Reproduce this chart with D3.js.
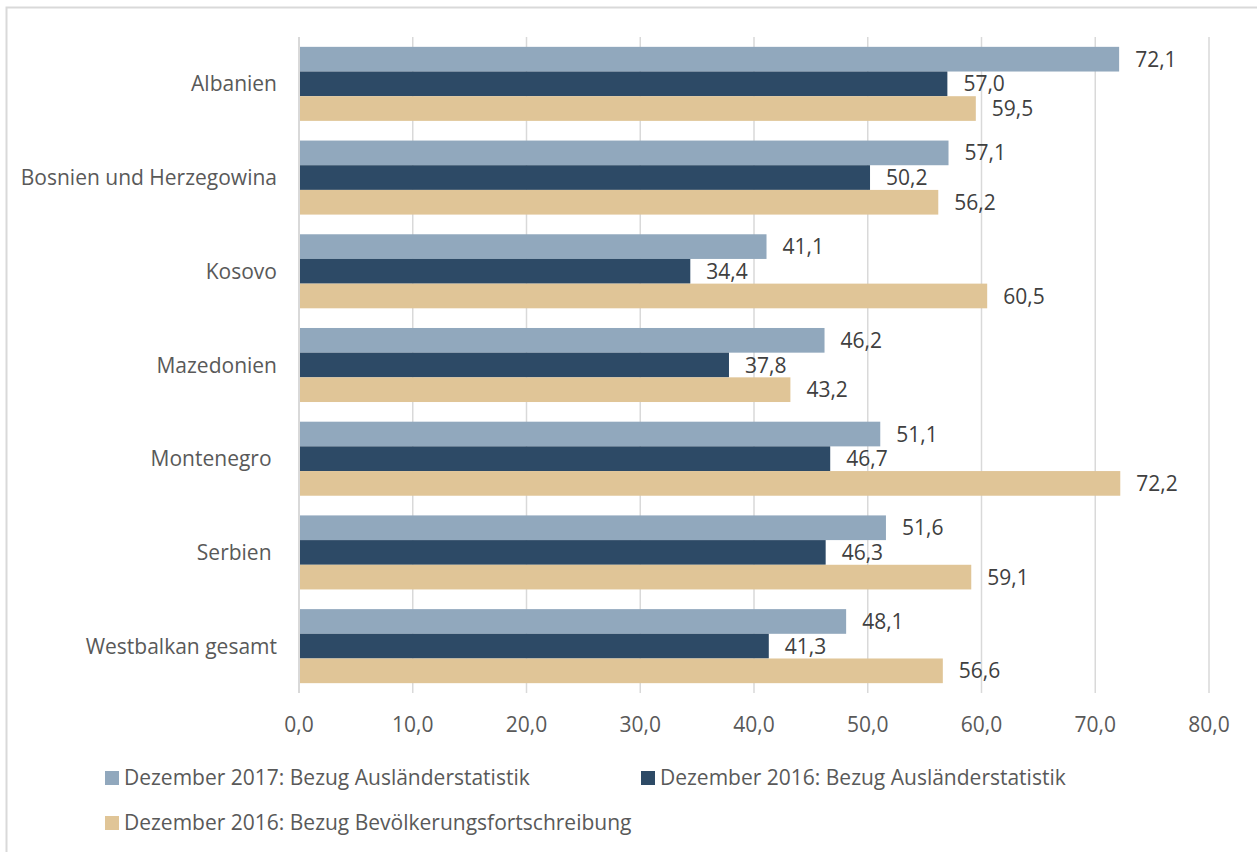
<!DOCTYPE html>
<html><head><meta charset="utf-8">
<script src="https://cdn.jsdelivr.net/npm/d3@7"></script>
<style>
html,body{margin:0;padding:0;background:#fff;}
text{font-family:"Open Sans",sans-serif;white-space:pre;}
</style></head>
<body><svg id="c" width="1257" height="852"></svg>
<script>
const categories = ["Albanien","Bosnien und Herzegowina","Kosovo","Mazedonien","Montenegro ","Serbien ","Westbalkan gesamt"];
const seriesNames = ["Dezember 2017: Bezug Ausländerstatistik","Dezember 2016: Bezug Ausländerstatistik","Dezember 2016: Bezug Bevölkerungsfortschreibung"];
const dez2017Aus = [72.1,57.1,41.1,46.2,51.1,51.6,48.1];
const dez2016Aus = [57.0,50.2,34.4,37.8,46.7,46.3,41.3];
const dez2016Bev = [59.5,56.2,60.5,43.2,72.2,59.1,56.6];
const xTicks = [0,10,20,30,40,50,60,70,80];
const colors = ["#91a8bd","#2d4a66","#e0c597"];
const seriesValues = [dez2017Aus,dez2016Aus,dez2016Bev];

const svg = d3.select("#c");
svg.append("rect").attr("x",6.5).attr("y",7.5).attr("width",1300).attr("height",900)
  .attr("fill","#fff").attr("stroke","#d9d9d9").attr("stroke-width",2);

const pLeft=299, pRight=1209, pTop=37, pBottom=693;
const x = d3.scaleLinear().domain([0,80]).range([pLeft,pRight]);
const y = d3.scaleBand().domain(categories).range([pTop,pBottom]).paddingInner(0.21).paddingOuter(0.105);
const ys = d3.scaleBand().domain(d3.range(3)).range([0,y.bandwidth()]);
const fmt = v => d3.format(".1f")(v).replace(".",",");
const FS = 21;

// gridlines
svg.append("g").selectAll("line").data(xTicks.filter(t=>t>0)).join("line")
  .attr("x1",d=>x(d)).attr("x2",d=>x(d)).attr("y1",pTop).attr("y2",pBottom)
  .attr("stroke","#d9d9d9").attr("stroke-width",1.5);

// bars
const g = svg.append("g");
seriesValues.forEach((vals,si)=>{
  g.append("g").selectAll("rect").data(vals).join("rect")
    .attr("x",x(0)).attr("y",(d,i)=>y(categories[i])+ys(si))
    .attr("width",d=>x(d)-x(0)).attr("height",ys.bandwidth())
    .attr("fill",colors[si]);
  g.append("g").selectAll("text").data(vals).join("text")
    .attr("x",d=>x(d)+16).attr("y",(d,i)=>y(categories[i])+ys(si)+ys.bandwidth()/2)
    .attr("dy","0.36em").attr("font-size",FS).attr("fill","#404040")
    .text(d=>fmt(d));
});

// axis line at zero
svg.append("line").attr("x1",x(0)).attr("x2",x(0)).attr("y1",pTop).attr("y2",pBottom)
  .attr("stroke","#d9d9d9").attr("stroke-width",2);

// category labels
svg.append("g").selectAll("text").data(categories).join("text")
  .attr("x",x(0)-22).attr("y",d=>y(d)+y.bandwidth()/2).attr("dy","0.36em")
  .attr("text-anchor","end").attr("font-size",FS).attr("fill","#595959").text(d=>d);

// x tick labels
svg.append("g").selectAll("text").data(xTicks).join("text")
  .attr("x",d=>x(d)).attr("y",732).attr("text-anchor","middle")
  .attr("font-size",FS).attr("fill","#595959").text(d=>fmt(d));

// legend
const legPos = [[105,771],[641,771],[105,816]];
seriesNames.forEach((n,i)=>{
  const [lx,ly]=legPos[i];
  svg.append("rect").attr("x",lx).attr("y",ly).attr("width",14).attr("height",14).attr("fill",colors[i]);
  svg.append("text").attr("x",lx+19).attr("y",ly+14).attr("font-size",FS).attr("fill","#595959").text(n);
});
</script></body></html>
